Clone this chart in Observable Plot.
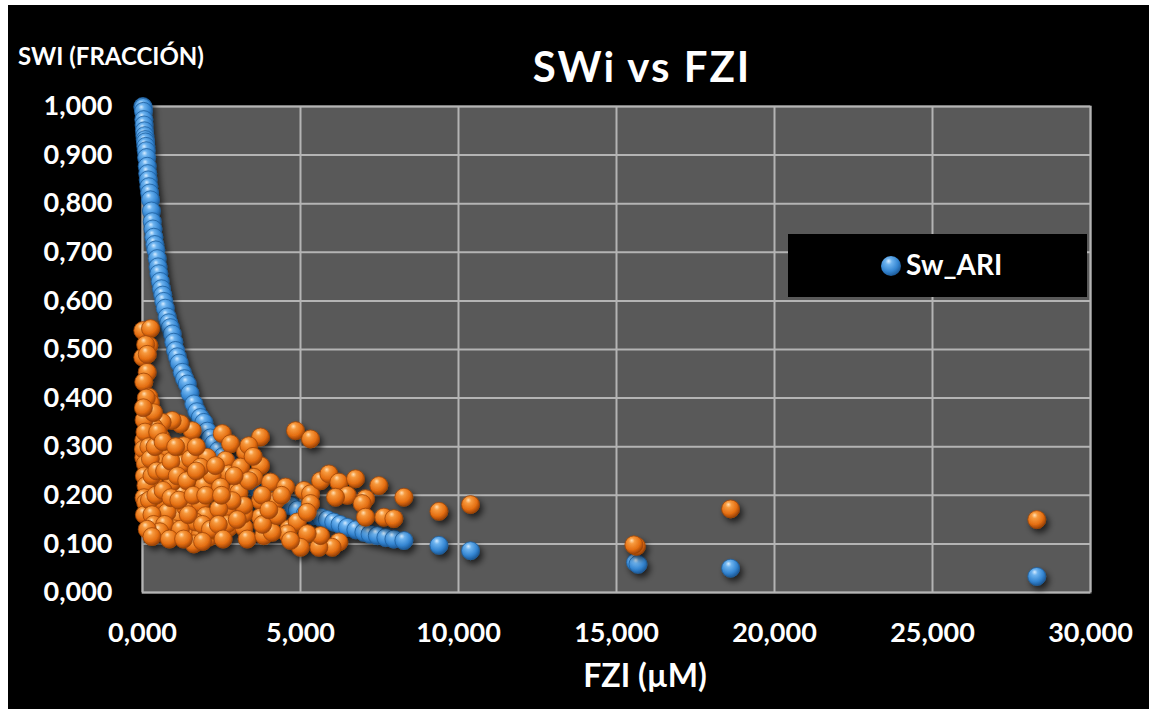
<!DOCTYPE html>
<html>
<head>
<meta charset="utf-8">
<script src="https://cdn.jsdelivr.net/npm/d3@7"></script>
<script src="https://cdn.jsdelivr.net/npm/@observablehq/plot@0.6"></script>
<style>
  html, body { margin: 0; padding: 0; background: #ffffff; }
  #wrap { position: absolute; left: 8px; top: 5px; width: 1141px; height: 704px; background: #000; overflow: hidden; font-family: Lato, "Open Sans", sans-serif; font-weight: bold; color: #fff; }
  #chart { position: absolute; left: 0; top: 0; }
  .lbl { position: absolute; white-space: nowrap; color: #fff; font-weight: bold; }
  #title { left: 0; width: 1268px; top: 36px; text-align: center; font-size: 42px; letter-spacing: 2px; }
  #ylab { left: 10px; top: 36px; font-size: 24px; }
  #xlab { left: 0; width: 1274px; top: 650px; text-align: center; font-size: 32px; }
  #legend { position: absolute; left: 780px; top: 229px; width: 299px; height: 63px; background: #000; }
  #legend svg { position: absolute; left: 92px; top: 21px; }
  #legend span { position: absolute; left: 118px; top: 13px; font-size: 28px; font-weight: bold; color: #fff; }
</style>
</head>
<body>
<svg width="0" height="0" style="position:absolute">
  <defs>
    <radialGradient id="gBlue" cx="0.4" cy="0.35" r="0.65" fx="0.38" fy="0.25">
      <stop offset="0%" stop-color="#d6ecff"/>
      <stop offset="25%" stop-color="#6db3ef"/>
      <stop offset="70%" stop-color="#3586d2"/>
      <stop offset="100%" stop-color="#1d5b9a"/>
    </radialGradient>
    <radialGradient id="gOrange" cx="0.4" cy="0.35" r="0.65" fx="0.38" fy="0.25">
      <stop offset="0%" stop-color="#ffe0b5"/>
      <stop offset="25%" stop-color="#f79a3e"/>
      <stop offset="70%" stop-color="#e46e12"/>
      <stop offset="100%" stop-color="#9c4306"/>
    </radialGradient>
    <filter id="shadow" x="-10%" y="-10%" width="130%" height="130%">
      <feDropShadow dx="3" dy="4" stdDeviation="3" flood-color="#000" flood-opacity="0.65"/>
    </filter>
  </defs>
</svg>
<div id="wrap">
  <div id="chart"></div>
  <div class="lbl" id="title">SWi vs FZI</div>
  <div class="lbl" id="ylab">SWI (FRACCIÓN)</div>
  <div class="lbl" id="xlab">FZI (µM)</div>
  <div id="legend">
    <svg width="22" height="22"><circle cx="11" cy="11" r="10" fill="url(#gBlue)"/></svg>
    <span>Sw_ARI</span>
  </div>
</div>
<script>
// Tick values
const xTicks = [0, 5, 10, 15, 20, 25, 30];
const yTicks = [0, 0.1, 0.2, 0.3, 0.4, 0.5, 0.6, 0.7, 0.8, 0.9, 1.0];

// Series Sw_ARI (blue): FZI, Sw
const swAriFZI = [0.010,0.022,0.030,0.041,0.050,0.060,0.073,0.085,0.095,0.105,0.117,0.130,0.149,0.165,0.180,0.200,0.225,0.253,0.280,0.307,0.330,0.358,0.390,0.420,0.465,0.490,0.516,0.560,0.600,0.640,0.674,0.720,0.780,0.830,0.880,0.940,0.990,1.045,1.100,1.160,1.256,1.330,1.415,1.500,1.625,1.720,1.830,1.940,2.050,2.150,2.250,2.400,2.550,2.700,2.850,3.000,3.200,3.400,3.600,3.850,4.100,4.350,4.580,4.685,4.900,5.150,5.400,5.635,5.850,6.050,6.250,6.480,6.750,7.005,7.200,7.430,7.700,7.955,8.270,9.380,10.380,15.600,15.680,18.610,28.300];
const swAriSw = [1.000,0.998,0.990,0.973,0.962,0.950,0.940,0.932,0.927,0.918,0.909,0.895,0.877,0.862,0.849,0.835,0.822,0.808,0.785,0.763,0.748,0.731,0.716,0.705,0.687,0.670,0.656,0.640,0.625,0.612,0.599,0.585,0.567,0.555,0.545,0.532,0.515,0.498,0.485,0.472,0.453,0.440,0.429,0.410,0.388,0.372,0.360,0.350,0.332,0.318,0.306,0.292,0.280,0.268,0.258,0.249,0.237,0.226,0.215,0.204,0.194,0.186,0.180,0.179,0.170,0.162,0.158,0.155,0.150,0.145,0.140,0.134,0.129,0.124,0.120,0.117,0.113,0.110,0.107,0.097,0.086,0.062,0.058,0.050,0.033];

// Second series (orange): FZI, Sw
const sw2FZI = [0.010,0.253,0.200,0.010,0.148,0.041,0.200,0.148,0.041,0.041,0.148,0.253,0.148,0.465,0.781,1.098,1.414,2.099,2.732,3.207,3.313,3.839,4.631,4.895,
4.842,5.317,3.735,2.522,2.785,3.260,3.365,3.735,2.627,2.732,3.523,4.051,4.526,5.106,5.317,5.317,5.212,5.634,5.898,6.214,6.741,6.479,6.109,7.058,7.479,6.953,7.058,7.637,7.954,8.270,9.380,10.380,6.214,6.003,5.581,5.634,5.212,5.001,4.580,4.684,4.104,4.209,3.735,4.262,3.735,3.207,2.996,2.680,2.680,2.257,1.836,1.625,1.361,1.836,2.257,1.941,2.205,2.469,3.049,1.256,0.940,1.256,0.781,1.573,1.203,0.940,0.623,0.358,1.994,0.570,0.358,0.516,0.570,1.308,1.520,2.046,1.836,2.310,3.102,3.365,3.788,3.207,2.838,2.415,1.677,0.781,0.993,
15.630,15.550,18.610,28.300,
0.050,0.080,0.030,0.090,0.060,0.110,0.050,0.100,0.060,0.200,0.250,0.300,0.220,0.300,0.350,0.420,0.450,0.400,0.480,0.650,0.700,0.650,0.700,0.550,0.900,0.900,1.050,1.100,1.150,1.200,1.400,1.450,1.600,1.700,1.700,1.900,2.000,2.150,2.400,2.500,2.550,2.900,3.000,3.500,3.800,4.000,4.400,0.150,0.300,0.850,1.300,1.900,0.100,0.150,0.250,0.120,0.350,0.030];
const sw2Sw = [0.539,0.543,0.508,0.484,0.453,0.433,0.402,0.368,0.313,0.278,0.251,0.210,0.169,0.148,0.124,0.155,0.114,0.114,0.134,0.134,0.110,0.117,0.131,0.145,
0.333,0.316,0.320,0.327,0.306,0.289,0.302,0.261,0.272,0.244,0.237,0.227,0.217,0.210,0.203,0.183,0.165,0.230,0.244,0.227,0.234,0.200,0.196,0.193,0.220,0.183,0.155,0.155,0.152,0.196,0.167,0.181,0.104,0.093,0.093,0.117,0.121,0.093,0.121,0.107,0.124,0.189,0.189,0.158,0.155,0.162,0.210,0.172,0.141,0.128,0.121,0.100,0.176,0.183,0.155,0.220,0.241,0.217,0.206,0.203,0.227,0.265,0.292,0.333,0.347,0.354,0.350,0.340,0.158,0.189,0.224,0.268,0.320,0.302,0.275,0.278,0.258,0.261,0.258,0.230,0.200,0.179,0.189,0.172,0.145,0.165,0.131,
0.095,0.098,0.172,0.150,
0.355,0.330,0.295,0.265,0.240,0.220,0.195,0.185,0.160,0.300,0.275,0.240,0.190,0.160,0.140,0.200,0.250,0.300,0.330,0.310,0.250,0.210,0.140,0.125,0.195,0.270,0.300,0.240,0.190,0.130,0.230,0.160,0.200,0.250,0.300,0.140,0.200,0.130,0.140,0.200,0.110,0.240,0.150,0.280,0.140,0.170,0.200,0.130,0.115,0.110,0.110,0.105,0.510,0.490,0.390,0.400,0.370,0.380];

const blue = swAriFZI.map((x, i) => ({x, y: swAriSw[i]}));
const orange = sw2FZI.map((x, i) => ({x, y: sw2Sw[i]}));

const fmt = d => d3.format(".3f")(d).replace(".", ",");

const chart = Plot.plot({
  width: 1141,
  height: 704,
  marginLeft: 134,
  marginRight: 59,
  marginTop: 101,
  marginBottom: 117,
  style: { background: "transparent", color: "#fff", fontFamily: "Lato, 'Open Sans', sans-serif", fontWeight: "bold", fontSize: "27px", overflow: "visible" },
  x: { domain: [0, 30] },
  y: { domain: [0, 1] },
  marks: [
    Plot.frame({ fill: "#595959", stroke: "#8c8c8c", strokeWidth: 2 }),
    Plot.gridX(xTicks, { stroke: "#b4b4b4", strokeOpacity: 1, strokeWidth: 2 }),
    Plot.gridY(yTicks, { stroke: "#b4b4b4", strokeOpacity: 1, strokeWidth: 2 }),
    Plot.axisY({ ticks: yTicks, tickFormat: fmt, tickSize: 0, tickPadding: 30, label: null }),
    Plot.axisX({ ticks: xTicks, tickFormat: fmt, tickSize: 0, tickPadding: 30, label: null }),
    Plot.dot(blue, { x: "x", y: "y", r: 9, fill: "url(#gBlue)", stroke: "#1e5f9e", strokeWidth: 0.8 }),
    Plot.dot(orange, { x: "x", y: "y", r: 9, fill: "url(#gOrange)", stroke: "#a04606", strokeWidth: 0.8 })
  ]
});
chart.querySelectorAll('g[aria-label="dot"]').forEach(g => g.setAttribute("filter", "url(#shadow)"));
document.getElementById("chart").appendChild(chart);
</script>
</body>
</html>
